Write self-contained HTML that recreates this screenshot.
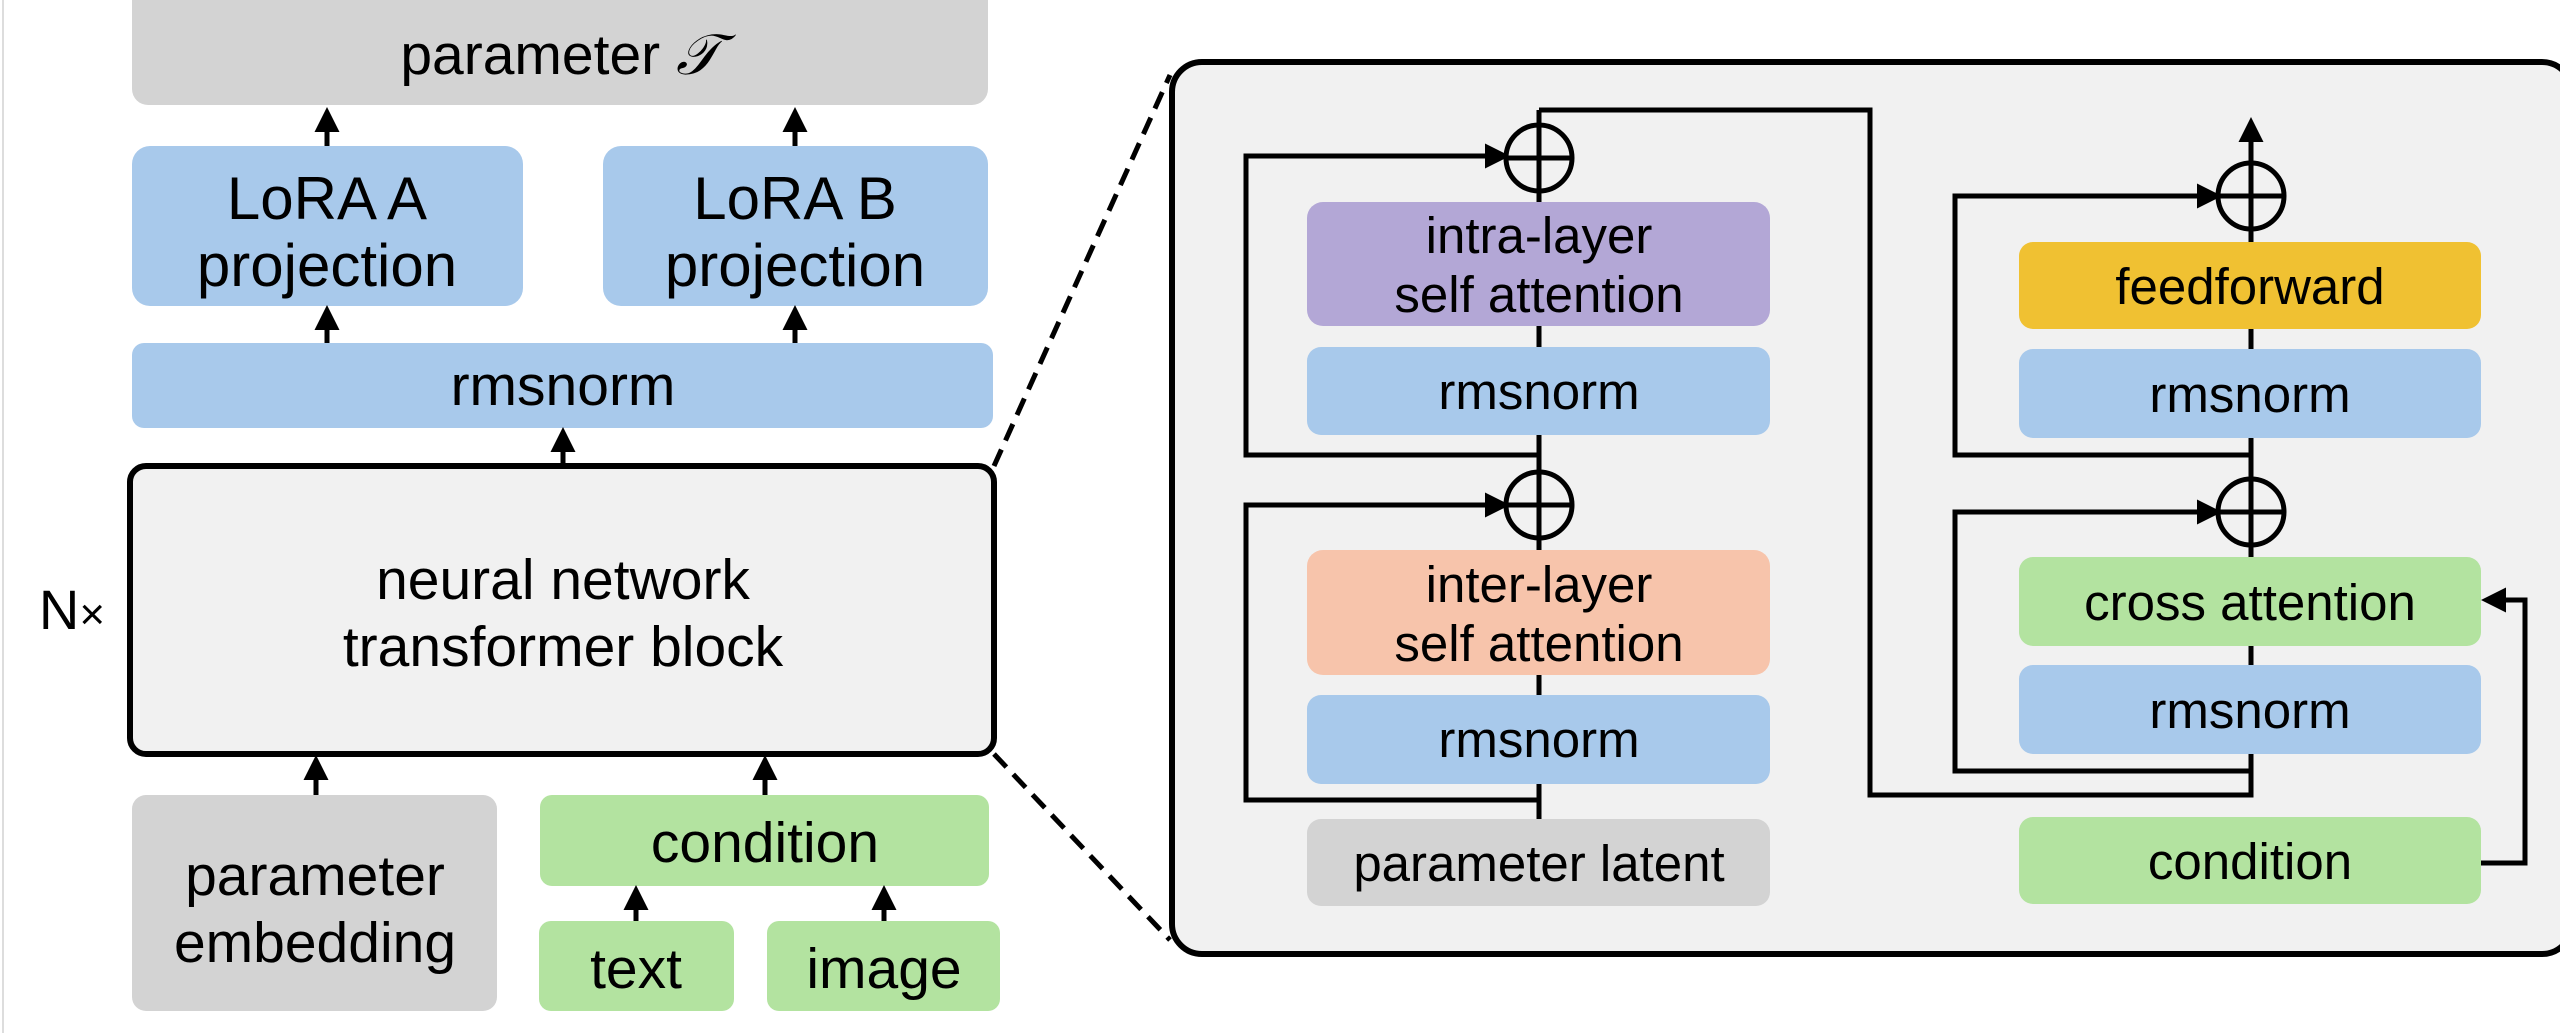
<!DOCTYPE html>
<html><head><meta charset="utf-8"><style>
html,body{margin:0;padding:0;background:#fff;}
svg{display:block;}
text{font-family:"Liberation Sans",Arial,sans-serif;fill:#000;text-anchor:middle;}
</style></head><body>
<svg width="2560" height="1033" viewBox="0 0 2560 1033" xmlns="http://www.w3.org/2000/svg">
<defs>
<marker id="ah" markerWidth="5" markerHeight="5" refX="4" refY="2.5" orient="auto" markerUnits="strokeWidth">
<path d="M0,0 L5,2.5 L0,5 z" fill="#000"/></marker>
</defs>
<line x1="3" y1="0" x2="3" y2="1033" stroke="#ddd" stroke-width="2"/>
<!-- LEFT -->
<rect x="132" y="-20" width="856" height="125" rx="16" fill="#d3d3d3"/>
<text x="560" y="74" font-size="57">parameter <tspan font-family="Liberation Serif" font-style="italic">𝒯</tspan></text>
<rect x="132" y="146" width="391" height="160" rx="18" fill="#a8c9eb"/>
<text x="327" y="219" font-size="60">LoRA A</text>
<text x="327" y="286" font-size="60">projection</text>
<rect x="603" y="146" width="385" height="160" rx="18" fill="#a8c9eb"/>
<text x="795" y="219" font-size="60">LoRA B</text>
<text x="795" y="286" font-size="60">projection</text>
<rect x="132" y="343" width="861" height="85" rx="12" fill="#a8c9eb"/>
<text x="563" y="405" font-size="57">rmsnorm</text>
<rect x="130" y="466" width="864" height="288" rx="16" fill="#f1f1f1" stroke="#000" stroke-width="6"/>
<text x="563" y="599" font-size="57">neural network</text>
<text x="563" y="666" font-size="57">transformer block</text>
<text x="72" y="629" font-size="56">N<tspan font-size="44">×</tspan></text>
<rect x="132" y="795" width="365" height="216" rx="14" fill="#d3d3d3"/>
<text x="315" y="895" font-size="57">parameter</text>
<text x="315" y="962" font-size="57">embedding</text>
<rect x="540" y="795" width="449" height="91" rx="12" fill="#b3e3a0"/>
<text x="765" y="862" font-size="57">condition</text>
<rect x="539" y="921" width="195" height="90" rx="12" fill="#b3e3a0"/>
<text x="636" y="988" font-size="57">text</text>
<rect x="767" y="921" width="233" height="90" rx="12" fill="#b3e3a0"/>
<text x="884" y="988" font-size="57">image</text>
<g stroke="#000" stroke-width="5" marker-end="url(#ah)">
<line x1="327" y1="146" x2="327" y2="112"/>
<line x1="795" y1="146" x2="795" y2="112"/>
<line x1="327" y1="343" x2="327" y2="310"/>
<line x1="795" y1="343" x2="795" y2="310"/>
<line x1="563" y1="466" x2="563" y2="432"/>
<line x1="316" y1="795" x2="316" y2="760"/>
<line x1="765" y1="795" x2="765" y2="760"/>
<line x1="636" y1="921" x2="636" y2="890"/>
<line x1="884" y1="921" x2="884" y2="890"/>
</g>
<!-- dashed -->
<line x1="994" y1="466" x2="1170" y2="75" stroke="#000" stroke-width="5" stroke-dasharray="18,10"/>
<line x1="994" y1="754" x2="1170" y2="940" stroke="#000" stroke-width="5" stroke-dasharray="18,10"/>
<!-- RIGHT PANEL -->
<rect x="1172" y="62" width="1400" height="892" rx="30" fill="#f1f1f1" stroke="#000" stroke-width="6"/>
<g stroke="#000" stroke-width="5" fill="none">
<line x1="1539" y1="110" x2="1539" y2="819"/>
<polyline points="1539,455 1246,455 1246,156 1505,156" marker-end="url(#ah)"/>
<polyline points="1539,800 1246,800 1246,505 1505,505" marker-end="url(#ah)"/>
<polyline points="1539,110 1870,110 1870,795 2251,795 2251,230"/>
<line x1="2251" y1="230" x2="2251" y2="122" marker-end="url(#ah)"/>
<polyline points="2251,455 1955,455 1955,196 2217,196" marker-end="url(#ah)"/>
<polyline points="2251,771 1955,771 1955,512 2217,512" marker-end="url(#ah)"/>
<polyline points="2481,863 2525,863 2525,600 2486,600" marker-end="url(#ah)"/>
<circle cx="1539" cy="158" r="33" fill="#f1f1f1"/>
<line x1="1506" y1="158" x2="1572" y2="158"/>
<line x1="1539" y1="125" x2="1539" y2="191"/>
<circle cx="1539" cy="505" r="33" fill="#f1f1f1"/>
<line x1="1506" y1="505" x2="1572" y2="505"/>
<line x1="1539" y1="472" x2="1539" y2="538"/>
<circle cx="2251" cy="196" r="33" fill="#f1f1f1"/>
<line x1="2218" y1="196" x2="2284" y2="196"/>
<line x1="2251" y1="163" x2="2251" y2="229"/>
<circle cx="2251" cy="512" r="33" fill="#f1f1f1"/>
<line x1="2218" y1="512" x2="2284" y2="512"/>
<line x1="2251" y1="479" x2="2251" y2="545"/>
</g>
<rect x="1307" y="202" width="463" height="124" rx="16" fill="#b3a7d6"/>
<text x="1539" y="253" font-size="51">intra-layer</text>
<text x="1539" y="312" font-size="51">self attention</text>
<rect x="1307" y="347" width="463" height="88" rx="14" fill="#a8c9eb"/>
<text x="1539" y="409" font-size="51">rmsnorm</text>
<rect x="1307" y="550" width="463" height="125" rx="16" fill="#f7c4ab"/>
<text x="1539" y="602" font-size="51">inter-layer</text>
<text x="1539" y="661" font-size="51">self attention</text>
<rect x="1307" y="695" width="463" height="89" rx="14" fill="#a8c9eb"/>
<text x="1539" y="757" font-size="51">rmsnorm</text>
<rect x="1307" y="819" width="463" height="87" rx="14" fill="#d3d3d3"/>
<text x="1539" y="881" font-size="51">parameter latent</text>
<rect x="2019" y="242" width="462" height="87" rx="14" fill="#f0c132"/>
<text x="2250" y="304" font-size="51">feedforward</text>
<rect x="2019" y="349" width="462" height="89" rx="14" fill="#a8c9eb"/>
<text x="2250" y="412" font-size="51">rmsnorm</text>
<rect x="2019" y="557" width="462" height="89" rx="14" fill="#b3e3a0"/>
<text x="2250" y="620" font-size="51">cross attention</text>
<rect x="2019" y="665" width="462" height="89" rx="14" fill="#a8c9eb"/>
<text x="2250" y="728" font-size="51">rmsnorm</text>
<rect x="2019" y="817" width="462" height="87" rx="14" fill="#b3e3a0"/>
<text x="2250" y="879" font-size="51">condition</text>
</svg>
</body></html>
